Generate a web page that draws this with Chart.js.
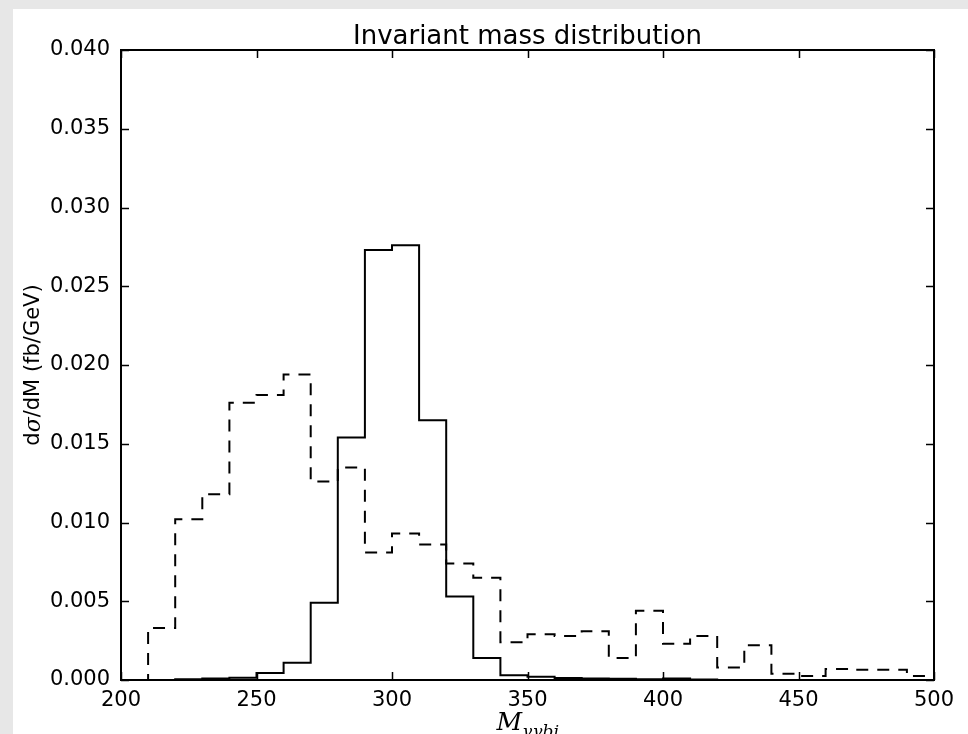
<!DOCTYPE html>
<html>
<head>
<meta charset="utf-8">
<script src="https://cdn.jsdelivr.net/npm/chart.js@4.4.0/dist/chart.umd.min.js"></script>
<style>
  html, body { margin: 0; padding: 0; background: #e7e7e7; }
  #wrap { position: absolute; left: 13px; top: 9px; width: 955px; height: 725px; background: #fff; }
</style>
</head>
<body>
<div id="wrap"><canvas id="massChart" width="955" height="725"></canvas></div>
<script>
// bin edges of the M(γγbj) histogram (GeV)
const binEdges = [200, 210, 220, 230, 240, 250, 260, 270, 280, 290, 300,
                  310, 320, 330, 340, 350, 360, 370, 380, 390, 400,
                  410, 420, 430, 440, 450, 460, 470, 480, 490, 500];

// solid histogram (signal), one value per bin
const signal = [0, 0, 0.00005, 0.0001, 0.00015, 0.00045, 0.0011, 0.0049, 0.0154, 0.0273,
                0.0276, 0.0165, 0.0053, 0.0014, 0.0003, 0.0002, 0.00012, 0.0001, 0.00008, 0.00005,
                0.0001, 0.00003, 0, 0, 0, 0, 0, 0, 0, 0];

// dashed histogram (background), one value per bin
const background = [0, 0.0033, 0.0102, 0.0118, 0.0176, 0.0181, 0.0194, 0.0126, 0.0135, 0.0081,
                    0.0093, 0.0086, 0.0074, 0.0065, 0.0024, 0.0029, 0.0028, 0.0031, 0.0014, 0.0044,
                    0.0023, 0.0028, 0.0008, 0.0022, 0.0004, 0.00025, 0.0007, 0.00065, 0.00065, 0.00025];

const xTicks = [200, 250, 300, 350, 400, 450, 500];
const yTicks = [0, 0.005, 0.010, 0.015, 0.020, 0.025, 0.030, 0.035, 0.040];

// step outline like matplotlib histtype='step'
function stepPoints(edges, values) {
  const pts = [{ x: edges[0], y: 0 }];
  values.forEach((v, i) => pts.push({ x: edges[i], y: v }));
  pts.push({ x: edges[edges.length - 1], y: values[values.length - 1] });
  pts.push({ x: edges[edges.length - 1], y: 0 });
  return pts;
}

const frameAndText = {
  id: 'frameAndText',
  afterDatasetsDraw(chart) {
    const { ctx, chartArea: a, scales: { x, y } } = chart;
    ctx.save();
    ctx.strokeStyle = '#000';
    ctx.lineWidth = 1.5;
    const tl = 8;
    ctx.beginPath();
    xTicks.forEach(v => {
      const px = Math.round(x.getPixelForValue(v)) + 0.5;
      ctx.moveTo(px, a.bottom); ctx.lineTo(px, a.bottom - tl);
      ctx.moveTo(px, a.top); ctx.lineTo(px, a.top + tl);
    });
    yTicks.forEach(v => {
      const py = Math.round(y.getPixelForValue(v)) + 0.5;
      ctx.moveTo(a.left, py); ctx.lineTo(a.left + tl, py);
      ctx.moveTo(a.right, py); ctx.lineTo(a.right - tl, py);
    });
    ctx.stroke();
    ctx.lineWidth = 2;
    ctx.strokeRect(a.left, a.top, a.right - a.left, a.bottom - a.top);
    ctx.restore();
  },
  afterDraw(chart) {
    const { ctx, chartArea: a } = chart;
    const cx = (a.left + a.right) / 2;
    const cy = (a.top + a.bottom) / 2;
    ctx.save();
    ctx.fillStyle = '#000';

    // title
    ctx.font = '26px "DejaVu Sans"';
    ctx.textAlign = 'center';
    ctx.textBaseline = 'alphabetic';
    ctx.fillText('Invariant mass distribution', cx, 35);

    // x label M_{γγbj}
    ctx.font = 'italic 25px "DejaVu Serif"';
    ctx.textAlign = 'left';
    const mW = ctx.measureText('M').width;
    ctx.font = 'italic 17px "DejaVu Serif"';
    const sW = ctx.measureText('γγbj').width;
    const x0 = cx - (mW + sW) / 2;
    ctx.font = 'italic 25px "DejaVu Serif"';
    ctx.fillText('M', x0, 721);
    ctx.font = 'italic 17px "DejaVu Serif"';
    ctx.fillText('γγbj', x0 + mW, 728);

    // y label dσ/dM (fb/GeV)
    ctx.translate(21, cy);
    ctx.rotate(-Math.PI / 2);
    ctx.textBaseline = 'middle';
    const parts = [['d', '21px "DejaVu Sans"'], ['σ', 'italic 22px "DejaVu Serif"'],
                   ['/dM (fb/GeV)', '21px "DejaVu Sans"']];
    let total = 0;
    parts.forEach(p => { ctx.font = p[1]; total += ctx.measureText(p[0]).width; });
    let px = -total / 2;
    parts.forEach(p => {
      ctx.font = p[1];
      ctx.fillText(p[0], px, 0);
      px += ctx.measureText(p[0]).width;
    });
    ctx.restore();
  }
};

new Chart(document.getElementById('massChart'), {
  type: 'line',
  data: {
    datasets: [
      {
        label: 'signal',
        data: stepPoints(binEdges, signal),
        stepped: 'before',
        borderColor: '#000',
        borderWidth: 2,
        pointRadius: 0,
        fill: false
      },
      {
        label: 'background',
        data: stepPoints(binEdges, background),
        stepped: 'before',
        borderColor: '#000',
        borderWidth: 2,
        borderDash: [12, 9],
        pointRadius: 0,
        fill: false
      }
    ]
  },
  options: {
    responsive: false,
    animation: false,
    layout: { padding: { left: 0, top: 41, right: 34, bottom: 0 } },
    plugins: { legend: { display: false }, tooltip: { enabled: false } },
    scales: {
      x: {
        type: 'linear',
        min: 200,
        max: 500,
        afterBuildTicks: s => { s.ticks = xTicks.map(v => ({ value: v })); },
        afterFit: s => { s.height = 54; },
        grid: { display: false },
        border: { display: false },
        ticks: { color: '#000', font: { family: 'DejaVu Sans', size: 21 }, padding: 0, maxRotation: 0 }
      },
      y: {
        type: 'linear',
        min: 0,
        max: 0.04,
        afterBuildTicks: s => { s.ticks = yTicks.map(v => ({ value: v })); },
        afterFit: s => { s.width = 108; },
        grid: { display: false },
        border: { display: false },
        ticks: { color: '#000', font: { family: 'DejaVu Sans', size: 21 }, padding: 3,
                 callback: v => v.toFixed(3) }
      }
    }
  },
  plugins: [frameAndText]
});
</script>
</body>
</html>
